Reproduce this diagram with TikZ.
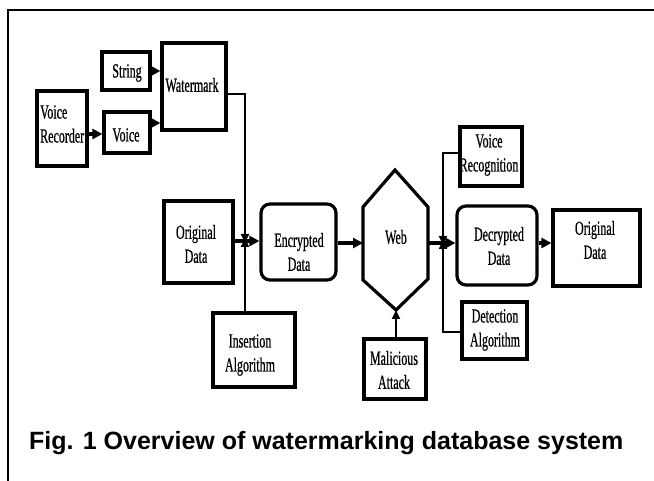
\documentclass[tikz,border=0pt]{standalone}
\usepackage{fontspec}
\newfontfamily\cond[FakeStretch=0.6,FakeBold=0.6]{Liberation Serif}
\newfontfamily\capfont{Liberation Sans}
\usetikzlibrary{arrows.meta}
\begin{document}
\begin{tikzpicture}[x=1pt,y=-1pt,
  box/.style={draw,line width=3.2pt,inner sep=0pt},
  rbox/.style={box,rounded corners=9pt},
  txt/.style={font=\cond\fontsize{20}{24}\selectfont,align=center,inner sep=0pt},
  conn/.style={line width=2.2pt,-{Triangle[length=9pt,width=8pt]}},
  thick conn/.style={line width=3.6pt,-{Triangle[length=10pt,width=10pt]}},
  plain/.style={line width=2pt}]
\useasboundingbox (0,0) rectangle (654,481);
\fill[white] (0,0) rectangle (654,481);
% frame
\draw[line width=2.4pt] (8,481) -- (8,10) -- (654,10);

% boxes
\node[box,minimum width=50pt,minimum height=75pt] (vr) at (62,128.5) {};
\node[txt,anchor=west,align=left] (vrt) at (40,124) {Voice\\Recorder};
\node[box,minimum width=48pt,minimum height=38pt] (str) at (126,71) {};
\node[txt] (strt) at (127,73) {String};
\node[box,minimum width=46pt,minimum height=41pt] (voice) at (127,132.5) {};
\node[txt] (voicet) at (126,135) {Voice};
\node[box,minimum width=64pt,minimum height=87pt] (wm) at (194,86.5) {};
\node[txt] (wmt) at (192,85) {Watermark};

\node[box,minimum width=69pt,minimum height=82pt] (od) at (198.5,242) {};
\node[txt] (odt) at (196,244) {Original\\Data};
\node[rbox,minimum width=75pt,minimum height=76pt] (enc) at (298.5,242) {};
\node[txt] (enct) at (299,252) {Encrypted\\Data};
\node[box,minimum width=82pt,minimum height=74pt] (ins) at (254,350) {};
\node[txt] (inst) at (250,355) {Insertion\\Algorithm};

% web hexagon
\coordinate (wt) at (395,170);
\coordinate (wb) at (396,310);
\coordinate (wl) at (363,243);
\coordinate (wr) at (428,243);
\draw[line width=3.2pt,line join=miter] (wt) -- (428,207) -- (428,279) -- (wb) -- (363,280) -- (363,207) -- cycle;
\node[txt] (web) at (396,237) {Web};
\node[box,minimum width=62pt,minimum height=60pt] (mal) at (395,369) {};
\node[txt] (malt) at (394,370) {Malicious\\Attack};

\node[box,minimum width=62pt,minimum height=59pt] (vrec) at (491,156.5) {};
\node[txt] (vrect) at (489,155) {Voice\\Recognition};
\node[rbox,minimum width=80pt,minimum height=79pt] (dec) at (497,245.5) {};
\node[txt] (dect) at (499,246) {Decrypted\\Data};
\node[box,minimum width=65pt,minimum height=57pt] (det) at (494.5,330.5) {};
\node[txt] (dett) at (495,330) {Detection\\Algorithm};
\node[box,minimum width=87pt,minimum height=76pt] (od2) at (596.5,248) {};
\node[txt] (od2t) at (595,240) {Original\\Data};

% junction points
\coordinate (j1) at (245,241);
\coordinate (j2) at (443,243);

% connectors left part
\draw[thick conn] (vr.east |- 0,134) -- (voice.west |- 0,134);
\draw[thick conn] (str.east |- 0,71) -- (wm.west |- 0,71);
\draw[thick conn] (voice.east |- 0,123) -- (wm.west |- 0,123);
\draw[conn] (wm.east |- 0,94) -| ([yshift=-2pt]j1);
\draw[conn] (ins.north -| j1) -- ([yshift=3pt]j1);
\draw[thick conn] (od.east |- j1) -- (enc.west |- j1);

% middle
\draw[thick conn] (enc.east |- wl) -- (wl);
\draw[conn] (mal.north -| wb) -- (wb);

% right part
\draw[thick conn] (wr) -- (dec.west |- wr);
\draw[conn] (vrec.west |- 0,153) -| ([yshift=-2pt]j2);
\draw[conn] (det.west |- 0,332) -| ([yshift=3pt]j2);
\draw[thick conn] (dec.east |- wr) -- (od2.west |- wr);

% caption
\node[anchor=base west,inner sep=0pt,font=\capfont\bfseries\fontsize{25}{30}\selectfont] (cap) at (29,449) {Fig. 1 Overview of watermarking database system};
\end{tikzpicture}
\end{document}
